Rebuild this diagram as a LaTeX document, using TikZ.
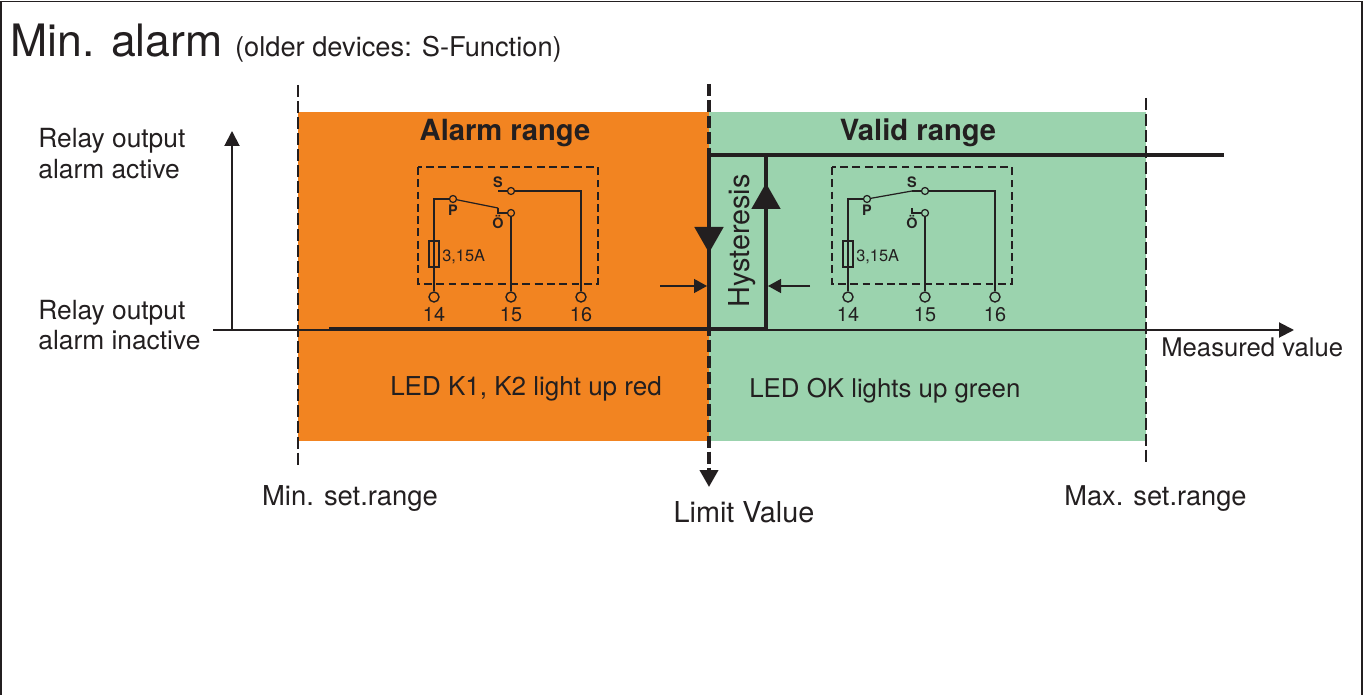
\documentclass[tikz,border=0pt]{standalone}
\usepackage{fontspec}
\setmainfont{TeX Gyre Heros}
\usepackage{tikz}
\usetikzlibrary{arrows.meta, positioning}
\definecolor{alarmbg}{HTML}{F28421}
\definecolor{validbg}{HTML}{9BD3AE}
\definecolor{ink}{HTML}{231F20}

\begin{document}
\begin{tikzpicture}[x=0.02cm, y=-0.02cm, every node/.style={text=ink, inner sep=0pt}]
\tikzstyle{setline}=[ink, line width=1.6pt, dash pattern=on 6.8pt off 2.3pt]
\tikzstyle{axis}=[ink, line width=1.1pt, -{Triangle[length=0.3cm, width=0.3cm]}]
\tikzstyle{trace}=[ink, line width=2.8pt]
\tikzstyle{hyst}=[trace, -{Triangle[length=0.52cm, width=0.56cm]}]
\tikzstyle{push}=[ink, line width=0.8pt, -{Triangle[length=0.26cm, width=0.28cm]}]
\tikzstyle{wire}=[ink, line width=0.7pt]
\tikzstyle{relaybox}=[wire, dash pattern=on 4.5pt off 2.5pt]
\tikzstyle{term}=[circle, draw=ink, line width=0.8pt, minimum size=0.2cm]
\tikzstyle{contact}=[circle, draw=ink, line width=0.7pt, minimum size=0.14cm]
\tikzstyle{fuse}=[draw=ink, line width=0.7pt, minimum width=0.2cm, minimum height=0.52cm]
\tikzstyle{lbl}=[font=\fontsize{15}{18}\selectfont]
\tikzstyle{rng}=[anchor=base, font=\fontsize{16.6}{20}\selectfont\bfseries]
\tikzstyle{pin}=[anchor=base, font=\fontsize{8.2}{10}\selectfont\bfseries]

\useasboundingbox (0,0) rectangle (1367,695);
\draw[ink, line width=1.1pt] (1,695) -- (1,1.5) -- (1362,1.5) -- (1362,695);

% ranges
\fill[alarmbg] (298,112) rectangle (709,441);
\fill[validbg] (709,112) rectangle (1146,441);

\node[anchor=base west, font=\fontsize{25.4}{30}\selectfont] (title) at (10,57) {Min. alarm {\fontsize{15.5}{18}\selectfont(older devices: S-Function)}};

\coordinate (mintop) at (298,85);
\coordinate (minbot) at (298,465);
\coordinate (maxtop) at (1146,98);
\coordinate (maxbot) at (1146,463);
\coordinate (limtop) at (709,84);
\coordinate (limtip) at (709,487);
\draw[setline] (mintop) -- (minbot);
\draw[setline] (maxtop) -- (maxbot);
\draw[setline, line width=2.2pt, -{Triangle[length=0.34cm, width=0.36cm]}] (limtop) -- (limtip);

% axes
\coordinate (orig) at (232,330);
\coordinate (ytip) at (232,131);
\coordinate (xstart) at (213,330);
\coordinate (xtip) at (1294,330);
\draw[axis] (orig) -- (ytip);
\draw[axis] (xstart) -- (xtip);

% relay output with hysteresis
\coordinate (lo) at (329,329);
\coordinate (hl) at (709,329);
\coordinate (hr) at (766,329);
\coordinate (tl) at (709,155);
\coordinate (tr) at (766,155);
\coordinate (hi) at (1224,155);
\draw[trace] (lo) -- (hr) -- (tr);
\draw[trace] (hl) -- (tl) -- (hi);
\draw[hyst] (tl) -- (709,253);
\draw[hyst] (hr) -- (766,183);
\draw[push] (660,286) -- (707,286);
\draw[push] (810,286) -- (768,286);
\node[rotate=90, anchor=base, font=\fontsize{16.4}{20}\selectfont] (hys) at (749,241) {Hysteresis};

% relay contacts
\foreach \x/\bg/\k in {418/alarmbg/a, 832/validbg/v}{
  \draw[relaybox] (\x,167) rectangle ({\x+180},284);
  \node[term, fill=\bg] (t14\k) at ({\x+16},297) {};
  \node[term, fill=\bg] (t15\k) at ({\x+93},297) {};
  \node[term, fill=\bg] (t16\k) at ({\x+163},297) {};
  \node[contact, fill=\bg] (p\k) at ({\x+35},199) {};
  \node[contact, fill=\bg] (s\k) at ({\x+93},191) {};
  \node[contact, fill=\bg] (o\k) at ({\x+93},213) {};
  \coordinate (so\k) at ({\x+80},191);
  \coordinate (oo\k) at ({\x+80},208);
  \draw[wire] (t14\k) |- (p\k);
  \draw[wire] (so\k) -- (s\k) -| (t16\k);
  \draw[wire] (oo\k) |- (o\k) -- (t15\k);
  \node[fuse] (f\k) at ({\x+16},254) {};
  \node[anchor=base west, font=\fontsize{9.3}{11}\selectfont] (amp\k) at ({\x+24},262) {3,15A};
  \node[pin] (sl\k) at ({\x+80},188) {S};
  \node[pin] (pl\k) at ({\x+35},216) {P};
  \node[pin] (ol\k) at ({\x+80},229) {Ö};
  \node[anchor=base, font=\fontsize{11.3}{13}\selectfont] (n14\k) at ({\x+16},322) {14};
  \node[anchor=base, font=\fontsize{11.3}{13}\selectfont] (n15\k) at ({\x+93},322) {15};
  \node[anchor=base, font=\fontsize{11.3}{13}\selectfont] (n16\k) at ({\x+163},322) {16};
}
\draw[wire] (pa) -- (ooa);
\draw[wire] (pv) -- (sov);

% texts
\node[rng] (alarm) at (505,141) {Alarm range};
\node[rng] (valid) at (918,141) {Valid range};
\node[lbl, anchor=base west] (act1) at (38,148) {Relay output};
\node[lbl, anchor=base west] (act2) at (38,179) {alarm active};
\node[lbl, anchor=base west] (ina1) at (38,320) {Relay output};
\node[lbl, anchor=base west] (ina2) at (38,350) {alarm inactive};
\node[anchor=base west, font=\fontsize{14.6}{18}\selectfont] (meas) at (1161,357) {Measured value};
\node[anchor=base, font=\fontsize{14.8}{18}\selectfont] (ledred) at (526,396) {LED K1, K2 light up red};
\node[anchor=base west, font=\fontsize{14.7}{18}\selectfont] (ledgrn) at (749,398) {LED OK lights up green};
\node[anchor=base, font=\fontsize{15.6}{18}\selectfont] (minset) at (350,506) {Min. set.range};
\node[anchor=base, font=\fontsize{16.4}{20}\selectfont] (lim) at (744,523) {Limit Value};
\node[anchor=base west, font=\fontsize{15.5}{18}\selectfont] (maxset) at (1064,506) {Max. set.range};
\end{tikzpicture}
\end{document}
